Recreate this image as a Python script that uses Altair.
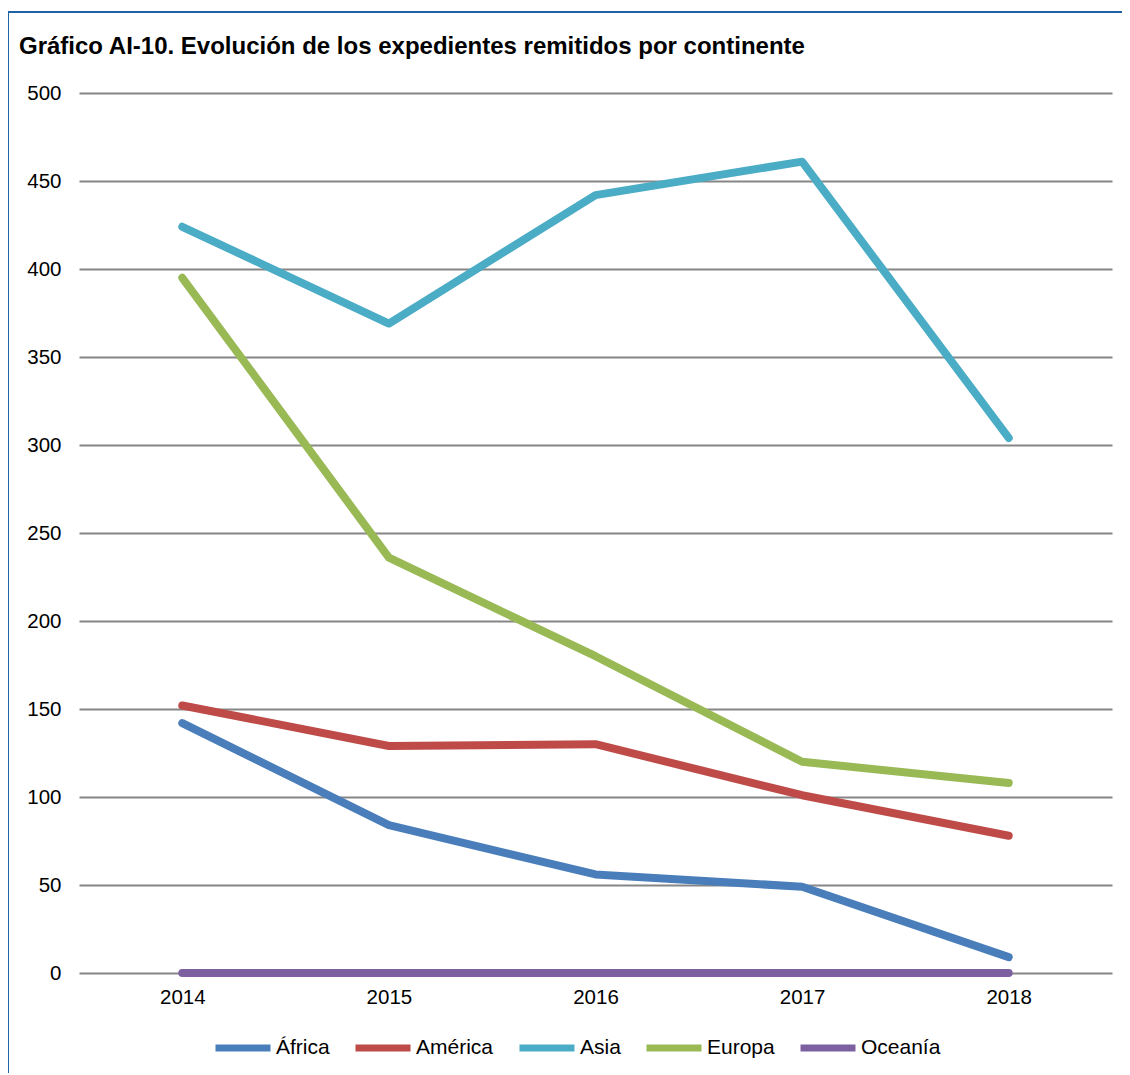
import altair as alt
import pandas as pd

years = ["2014", "2015", "2016", "2017", "2018"]
continents = ["África", "América", "Asia", "Europa", "Oceanía"]
africa = [142, 84, 56, 49, 9]
america = [152, 129, 130, 101, 78]
asia = [424, 369, 442, 461, 304]
europa = [395, 236, 180, 120, 108]
oceania = [0, 0, 0, 0, 0]
colors = ["#4A7EBB", "#BE4B48", "#4BACC6", "#98B954", "#7D60A0"]
title_text = "Gráfico AI-10. Evolución de los expedientes remitidos por continente"

series = [africa, america, asia, europa, oceania]
rows = []
for name, vals in zip(continents, series):
    for y, v in zip(years, vals):
        rows.append({"Año": y, "Continente": name, "Valor": v, "orden": continents.index(name)})
df = pd.DataFrame(rows)

FONT = "Liberation Sans"

lines = alt.Chart(df).mark_line(strokeWidth=8, strokeCap="round", strokeJoin="round").encode(
    x=alt.X("Año:N", sort=years, title=None,
            axis=alt.Axis(labelAngle=0, domain=False, ticks=False, labelPadding=14,
                          labelFontSize=20.5, labelFont=FONT, labelColor="#000000",
                          grid=False),
            scale=alt.Scale(paddingInner=0, paddingOuter=0.5)),
    y=alt.Y("Valor:Q", title=None,
            scale=alt.Scale(domain=[0, 500]),
            axis=alt.Axis(values=list(range(0, 501, 50)), domain=False, ticks=False,
                          labelPadding=18, labelFontSize=20.5, labelFont=FONT,
                          labelColor="#000000", gridColor="#868686", gridWidth=2)),
    color=alt.Color("Continente:N", sort=continents,
                    scale=alt.Scale(domain=continents, range=colors),
                    legend=alt.Legend(title=None, orient="none", direction="horizontal",
                                      legendX=133, legendY=924,
                                      symbolType="stroke", symbolSize=3025,
                                      symbolStrokeWidth=7, labelFontSize=21,
                                      labelFont=FONT, labelColor="#000000",
                                      labelOffset=2, columnPadding=11)),
    detail="orden:O",
    order=alt.Order("orden:Q"),
)

one = pd.DataFrame({"t": [title_text]})
title_mark = alt.Chart(one).mark_text(
    align="left", baseline="middle", fontSize=24, font=FONT, fontWeight="bold",
    color="#000000").encode(text="t:N", x=alt.value(-60), y=alt.value(-46))

left_border = alt.Chart(one).mark_rule(color="#1F63A6", strokeWidth=2).encode(
    x=alt.value(-71), y=alt.value(-81), y2=alt.value(990))
top_border = alt.Chart(one).mark_rule(color="#1F63A6", strokeWidth=2).encode(
    x=alt.value(-71), x2=alt.value(1060), y=alt.value(-81))

chart = alt.layer(lines, title_mark, left_border, top_border).properties(
    width=1033,
    height=880,
    padding={"left": 71, "top": 85, "right": 10, "bottom": 100},
    autosize=alt.AutoSizeParams(type="none"),
).configure_view(stroke=None)

chart.save("out.html", embed_options={"renderer": "svg", "actions": False})
